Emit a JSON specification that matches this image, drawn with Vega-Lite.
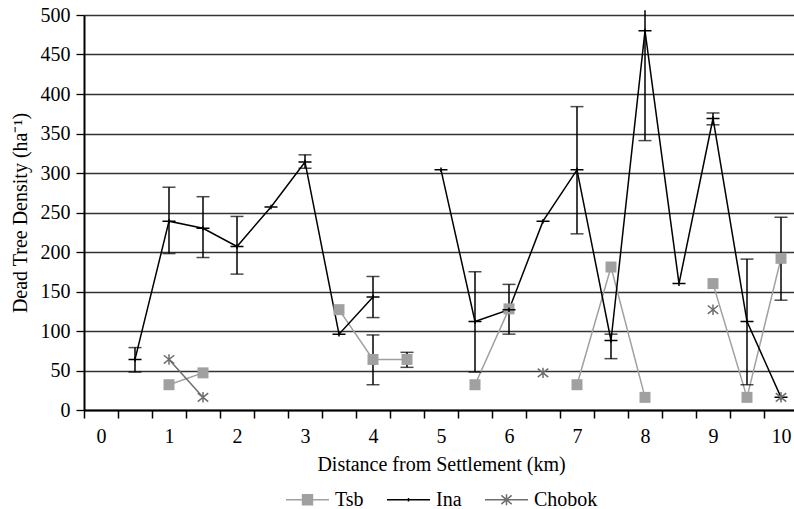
{
  "$schema": "https://vega.github.io/schema/vega-lite/v6.json",
  "width": 714,
  "height": 395,
  "autosize": {"type": "none"},
  "padding": {"left": 84, "top": 15, "right": 0, "bottom": 99},
  "background": "white",
  "config": {
    "view": {"stroke": null},
    "font": "Liberation Serif",
    "axis": {"labelFont": "Liberation Serif", "titleFont": "Liberation Serif", "labelFontSize": 20, "titleFontSize": 20, "titleFontWeight": "normal", "labelColor": "black", "titleColor": "black"},
    "axisY": {"labelOverlap": false, "grid": true, "gridColor": "#333333", "gridWidth": 1.3, "domainColor": "black", "domainWidth": 2, "tickColor": "black", "tickSize": 8, "tickWidth": 1.3, "labelPadding": 6, "titlePadding": 10},
    "axisX": {"tickBand": "extent", "labelAngle": 0, "labelOverlap": false, "grid": false, "tickSize": 8, "tickColor": "black", "tickWidth": 1.5, "domainColor": "black", "domainWidth": 2, "labelPadding": 8, "titlePadding": 8},
    "legend": {"labelFont": "Liberation Serif", "labelFontSize": 20, "labelColor": "black"}
  },
  "datasets": {
    "main": [
      {"series": "Ina", "x": 0.5, "y": 64, "lo": 48, "hi": 79},
      {"series": "Ina", "x": 1, "y": 239, "lo": 198, "hi": 282},
      {"series": "Ina", "x": 1.5, "y": 230, "lo": 193, "hi": 270},
      {"series": "Ina", "x": 2, "y": 207, "lo": 172, "hi": 245},
      {"series": "Ina", "x": 2.5, "y": 257, "lo": null, "hi": null},
      {"series": "Ina", "x": 3, "y": 314, "lo": 306, "hi": 323},
      {"series": "Ina", "x": 3.5, "y": 96, "lo": null, "hi": null},
      {"series": "Ina", "x": 4, "y": 143, "lo": 117, "hi": 169},
      {"series": "Ina", "x": 4.5, "y": null, "lo": null, "hi": null},
      {"series": "Ina", "x": 5, "y": 304, "lo": null, "hi": null},
      {"series": "Ina", "x": 5.5, "y": 112, "lo": 48, "hi": 175},
      {"series": "Ina", "x": 6, "y": 127, "lo": 96, "hi": 159},
      {"series": "Ina", "x": 6.5, "y": 239, "lo": null, "hi": null},
      {"series": "Ina", "x": 7, "y": 304, "lo": 223, "hi": 384},
      {"series": "Ina", "x": 7.5, "y": 88, "lo": 65, "hi": 96},
      {"series": "Ina", "x": 8, "y": 480, "lo": 341, "hi": 506},
      {"series": "Ina", "x": 8.5, "y": 160, "lo": null, "hi": null},
      {"series": "Ina", "x": 9, "y": 369, "lo": 361, "hi": 376},
      {"series": "Ina", "x": 9.5, "y": 112, "lo": 32, "hi": 191},
      {"series": "Ina", "x": 10, "y": 16, "lo": null, "hi": null},
      {"series": "Tsb", "x": 1, "y": 32, "lo": null, "hi": null},
      {"series": "Tsb", "x": 1.5, "y": 47, "lo": null, "hi": null},
      {"series": "Tsb", "x": 2, "y": null, "lo": null, "hi": null},
      {"series": "Tsb", "x": 3.5, "y": 127, "lo": null, "hi": null},
      {"series": "Tsb", "x": 4, "y": 64, "lo": 32, "hi": 95},
      {"series": "Tsb", "x": 4.5, "y": 64, "lo": 54, "hi": 73},
      {"series": "Tsb", "x": 5, "y": null, "lo": null, "hi": null},
      {"series": "Tsb", "x": 5.5, "y": 32, "lo": null, "hi": null},
      {"series": "Tsb", "x": 6, "y": 128, "lo": null, "hi": null},
      {"series": "Tsb", "x": 6.5, "y": null, "lo": null, "hi": null},
      {"series": "Tsb", "x": 7, "y": 32, "lo": null, "hi": null},
      {"series": "Tsb", "x": 7.5, "y": 181, "lo": null, "hi": null},
      {"series": "Tsb", "x": 8, "y": 16, "lo": null, "hi": null},
      {"series": "Tsb", "x": 8.5, "y": null, "lo": null, "hi": null},
      {"series": "Tsb", "x": 9, "y": 160, "lo": null, "hi": null},
      {"series": "Tsb", "x": 9.5, "y": 16, "lo": null, "hi": null},
      {"series": "Tsb", "x": 10, "y": 192, "lo": 139, "hi": 244},
      {"series": "Chobok", "x": 1, "y": 64, "lo": null, "hi": null},
      {"series": "Chobok", "x": 1.5, "y": 16, "lo": null, "hi": null},
      {"series": "Chobok", "x": 2, "y": null, "lo": null, "hi": null},
      {"series": "Chobok", "x": 6.5, "y": 47, "lo": null, "hi": null},
      {"series": "Chobok", "x": 7, "y": null, "lo": null, "hi": null},
      {"series": "Chobok", "x": 9, "y": 127, "lo": null, "hi": null},
      {"series": "Chobok", "x": 9.5, "y": null, "lo": null, "hi": null},
      {"series": "Chobok", "x": 10, "y": 16, "lo": null, "hi": null}
    ]
  },
  "data": {"name": "main"},
  "encoding": {
    "x": {
      "field": "x", "type": "ordinal",
      "scale": {"type": "band", "domain": [0, 0.5, 1, 1.5, 2, 2.5, 3, 3.5, 4, 4.5, 5, 5.5, 6, 6.5, 7, 7.5, 8, 8.5, 9, 9.5, 10], "paddingInner": 0, "paddingOuter": 0},
      "axis": {
        "title": "Distance from Settlement (km)",
        "tickBand": "extent",
        "labelExpr": "datum.value % 1 === 0 ? datum.label : ''"
      }
    },
    "y": {"field": "y", "type": "quantitative", "scale": {"domain": [0, 500], "nice": false},
      "axis": {"title": "Dead Tree Density (ha⁻¹)", "labelOverlap": false, "grid": true}}
  },
  "layer": [
    {
      "transform": [{"filter": "datum.series === 'Tsb'"}],
      "mark": {"type": "line", "color": "#a0a0a0", "strokeWidth": 1.5, "invalid": "break-paths-show-domains"}
    },
    {
      "transform": [{"filter": "datum.series === 'Chobok'"}],
      "mark": {"type": "line", "color": "#6e6e6e", "strokeWidth": 1.5, "invalid": "break-paths-show-domains"}
    },
    {
      "transform": [{"filter": "datum.series === 'Ina'"}],
      "mark": {"type": "line", "color": "black", "strokeWidth": 1.5, "invalid": "break-paths-show-domains"}
    },
    {
      "transform": [{"filter": "isValid(datum.lo)"}],
      "mark": {"type": "rule", "color": "black", "strokeWidth": 1.5},
      "encoding": {"y": {"field": "lo", "type": "quantitative", "axis": {"title": "Dead Tree Density (ha⁻¹)", "labelOverlap": false, "grid": true}}, "y2": {"field": "hi"}}
    },
    {
      "transform": [{"filter": "isValid(datum.lo)"}],
      "mark": {"type": "tick", "orient": "horizontal", "color": "black", "size": 13, "thickness": 1.5},
      "encoding": {"y": {"field": "lo", "type": "quantitative", "axis": {"title": "Dead Tree Density (ha⁻¹)", "labelOverlap": false, "grid": true}}}
    },
    {
      "transform": [{"filter": "isValid(datum.hi) && datum.hi <= 500"}],
      "mark": {"type": "tick", "orient": "horizontal", "color": "black", "size": 13, "thickness": 1.5},
      "encoding": {"y": {"field": "hi", "type": "quantitative", "axis": {"title": "Dead Tree Density (ha⁻¹)", "labelOverlap": false, "grid": true}}}
    },
    {
      "transform": [{"filter": "datum.series === 'Tsb' && isValid(datum.y)"}],
      "mark": {"type": "point", "shape": "square", "filled": true, "color": "#a0a0a0", "size": 121, "opacity": 1}
    },
    {
      "transform": [{"filter": "datum.series === 'Ina' && isValid(datum.y)"}],
      "mark": {"type": "point", "shape": "M-1,0L1,0M0,-0.35L0,0.35", "filled": false, "color": "black", "strokeWidth": 1.5, "size": 169, "opacity": 1}
    },
    {
      "transform": [{"filter": "datum.series === 'Chobok' && isValid(datum.y)"}],
      "mark": {"type": "point", "shape": "M-1,-0.8L1,0.8M-1,0.8L1,-0.8M0,-1L0,1", "filled": false, "color": "#6e6e6e", "strokeWidth": 1.5, "size": 110, "opacity": 1}
    },
    {
      "transform": [{"filter": "datum.y > 10000"}],
      "mark": {"type": "point", "filled": true, "strokeWidth": 1.5, "opacity": 1},
      "encoding": {
        "shape": {"field": "series", "type": "nominal",
          "scale": {"domain": ["Tsb", "Ina", "Chobok"], "range": ["M-1,0L1,0M-0.23,-0.23L0.23,-0.23L0.23,0.23L-0.23,0.23Z", "M-1,0L1,0M0,-0.08L0,0.08", "M-1,0L1,0M-0.24,-0.2L0.24,0.2M-0.24,0.2L0.24,-0.2M0,-0.26L0,0.26"]},
          "legend": {"title": null, "orient": "none", "legendX": 201, "legendY": 462, "direction": "horizontal", "symbolSize": 1849, "symbolStrokeWidth": 1.5, "labelOffset": 5, "columnPadding": 20}},
        "fill": {"field": "series", "type": "nominal", "scale": {"domain": ["Tsb", "Ina", "Chobok"], "range": ["#a0a0a0", "black", "#6e6e6e"]}},
        "stroke": {"field": "series", "type": "nominal", "scale": {"domain": ["Tsb", "Ina", "Chobok"], "range": ["#a0a0a0", "black", "#6e6e6e"]}}
      }
    }
  ]
}
